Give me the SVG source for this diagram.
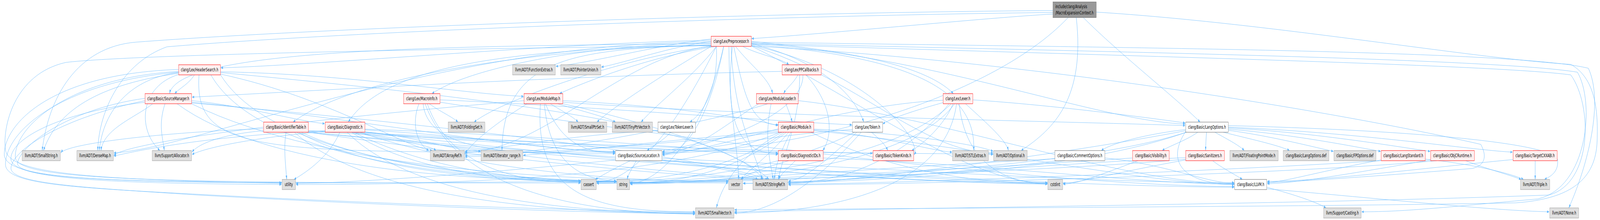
<svg xmlns="http://www.w3.org/2000/svg" width="7283" height="564" viewBox="0 0 7283 564" preserveAspectRatio="none">
<defs>
<marker id="a" viewBox="0 0 10 7" refX="10" refY="3.5" markerWidth="10" markerHeight="7" markerUnits="userSpaceOnUse" orient="auto"><path d="M0,0L10,3.5L0,7z" fill="#63b8ff"/></marker>
<style>
svg{width:100vw;height:100vh}
.e path{fill:none;stroke:#63b8ff;stroke-width:1;marker-end:url(#a)}
.n text{font-family:"DejaVu Sans","Liberation Sans",sans-serif;font-size:13px;fill:#000;text-anchor:middle}
.r rect{fill:#fff0f0;stroke:#ff0000}
.g rect{fill:#e0e0e0;stroke:#999999}
.w rect{fill:#ffffff;stroke:#666666}
.t rect{fill:#999999;stroke:#666666}
.t text{text-anchor:start}
</style>
</defs>
<rect width="7283" height="564" fill="#ffffff"/>
<g id="connectors" class="e">
<path d="M4793,36 C4500,45 3800,85 3421,99"/>
<path d="M4793,27 C3500,32 1500,70 620,108 C350,120 220,250 192,386"/>
<path d="M4793,32 C3500,40 1600,80 760,120 C560,160 450,280 445,386"/>
<path d="M4862,45 C4500,260 3600,392 3015,392"/>
<path d="M4899,45 C4940,250 4800,330 4648,386"/>
<path d="M4931,45 C5100,140 5350,250 5463,313"/>
<path d="M4990,31 C5800,60 6700,150 7150,165 C7260,200 7275,280 7270,360 C7265,460 7150,510 6900,520 C6000,530 4500,532 3343,538"/>
<path d="M3237,103 C2500,112 1500,165 1005,174"/>
<path d="M3237,112 C2000,118 810,125 772,240"/>
<path d="M3237,115 C2400,125 1600,200 1334,313"/>
<path d="M3237,117 C2300,125 1750,170 1585,313"/>
<path d="M3237,110 C2700,114 2150,170 1966,240"/>
<path d="M3261,119 C3000,140 2700,200 2547,240"/>
<path d="M3348,119 C3420,170 3500,200 3517,240"/>
<path d="M3381,119 C3450,140 3560,150 3591,166"/>
<path d="M3340,119 C3390,250 3420,320 3543,320"/>
<path d="M3334,119 C3300,300 3350,394 3543,394"/>
<path d="M3261,119 C3270,230 3200,290 3140,313"/>
<path d="M3294,119 C3250,250 3150,396 3015,396"/>
<path d="M3420,112 C3700,150 3880,230 3932,313"/>
<path d="M3420,106 C3800,128 4200,160 4340,240"/>
<path d="M3420,116 C3950,180 4200,360 4161,397"/>
<path d="M3237,118 C2800,150 2500,380 2116,392"/>
<path d="M3237,119 C2900,140 2300,250 2158,313"/>
<path d="M3237,100 C3000,115 2700,160 2530,170"/>
<path d="M3237,106 C3050,120 2850,160 2737,172"/>
<path d="M3237,119 C3050,180 2800,270 2717,313"/>
<path d="M3261,119 C3150,200 3000,260 2918,313"/>
<path d="M3237,116 C2600,125 2290,150 2285,386"/>
<path d="M3420,117 C3900,200 4200,392 4521,392"/>
<path d="M3420,114 C4000,140 4450,200 4432,386"/>
<path d="M3328,119 C3340,300 3430,380 3470,460"/>
<path d="M3318,119 C3320,300 3360,380 3362,460"/>
<path d="M3237,117 C2000,125 600,140 300,160 C60,190 10,330 25,385 C45,445 400,460 1282,470"/>
<path d="M3261,119 C3100,300 2900,467 2716,467"/>
<path d="M3294,119 C3200,350 3000,470 2868,470"/>
<path d="M3420,118 C3900,250 4400,470 4768,470"/>
<path d="M3420,110 C4300,150 5000,310 5395,318"/>
<path d="M3237,107 C2000,110 900,380 518,392"/>
<path d="M3420,108 C5000,122 6900,128 7230,175 C7300,260 7230,420 7141,533"/>
<path d="M3420,111 C5000,132 6800,150 7180,185 C7260,260 7230,480 7000,510 C6600,530 6400,543 6198,543"/>
<path d="M3420,113 C5000,142 6800,165 7150,192 C7250,270 7250,470 7050,500 C6000,522 4500,530 3343,543"/>
<path d="M3420,118 C4800,160 6200,300 6740,370 C6770,400 6760,425 6700,432 C6300,450 5900,466 5768,468"/>
<path d="M885,192 C860,215 820,225 795,240"/>
<path d="M1004,184 C1600,190 2100,240 2383,247"/>
<path d="M906,192 C880,400 1200,390 2800,390"/>
<path d="M813,186 C600,200 470,280 452,386"/>
<path d="M813,188 C400,220 250,300 198,386"/>
<path d="M1004,190 C1500,250 1850,380 1968,386"/>
<path d="M813,185 C300,210 30,330 25,420 C20,470 300,480 800,495 C1600,520 2600,540 3164,544"/>
<path d="M1004,186 C2200,250 3300,320 3474,460"/>
<path d="M813,191 C640,220 620,330 728,386"/>
<path d="M813,183 C300,200 60,330 70,405 C90,462 700,470 2643,469"/>
<path d="M960,192 C1200,430 2300,466 2806,466"/>
<path d="M813,178 C200,190 10,330 20,400 C40,455 400,466 1282,468"/>
<path d="M1004,192 C1300,460 2600,469 3315,469"/>
<path d="M751,266 C720,320 740,350 748,386"/>
<path d="M872,258 C1100,270 1350,310 1478,317"/>
<path d="M872,262 C1600,300 2400,388 2800,388"/>
<path d="M695,266 C620,300 470,330 460,386"/>
<path d="M660,258 C300,300 60,380 50,430 C45,470 350,480 900,500 C1700,525 2600,545 3164,548"/>
<path d="M872,264 C2000,320 3200,400 3494,460"/>
<path d="M806,266 C1200,430 2100,462 2643,463"/>
<path d="M660,252 C300,280 80,380 80,420 C90,470 900,475 2806,464"/>
<path d="M660,262 C250,290 40,360 50,410 C70,460 500,470 1282,473"/>
<path d="M872,266 C1500,440 2600,464 3315,464"/>
<path d="M1954,266 C2000,285 2060,300 2085,313"/>
<path d="M1907,266 C1870,320 1900,370 1952,386"/>
<path d="M2003,256 C2600,270 3500,310 3878,320"/>
<path d="M1926,266 C1950,400 2400,394 2800,394"/>
<path d="M2003,262 C3000,350 4800,478 5618,478"/>
<path d="M1935,266 C2100,520 2800,546 3164,549"/>
<path d="M1945,266 C2050,440 2400,468 2643,468"/>
<path d="M2505,266 C2560,285 2610,300 2632,313"/>
<path d="M2538,266 C2650,285 2760,300 2802,313"/>
<path d="M2483,266 C2550,360 2650,392 2800,392"/>
<path d="M2478,266 C2500,420 2650,462 2806,464"/>
<path d="M2562,258 C3000,270 3400,300 3541,322"/>
<path d="M2385,258 C1500,300 600,360 518,398"/>
<path d="M2400,266 C2300,300 2150,360 2116,396"/>
<path d="M2460,266 C2430,500 2700,543 3164,543"/>
<path d="M2562,262 C3500,300 4800,310 5395,322"/>
<path d="M2562,266 C3000,320 3400,400 3500,460"/>
<path d="M3577,266 C3590,285 3600,300 3606,313"/>
<path d="M3453,266 C3300,320 3150,394 3015,394"/>
<path d="M3495,266 C3200,320 2400,400 2116,402"/>
<path d="M3510,266 C3480,350 3500,400 3520,460"/>
<path d="M3634,258 C4300,300 5100,470 5618,471"/>
<path d="M3632,192 C3610,215 3580,225 3567,240"/>
<path d="M3668,192 C3780,260 3800,340 3745,386"/>
<path d="M3560,183 C2500,195 1200,240 874,249"/>
<path d="M3655,192 C3660,300 3200,380 3015,390"/>
<path d="M3640,192 C3640,320 3560,400 3543,460"/>
<path d="M4338,266 C4300,320 4200,370 4150,386"/>
<path d="M4300,262 C4150,285 4050,305 4018,318"/>
<path d="M4428,256 C4800,270 5200,300 5395,315"/>
<path d="M4293,257 C3800,270 3300,380 3015,398"/>
<path d="M4320,266 C4100,420 3800,469 3589,469"/>
<path d="M4395,266 C4500,320 4580,360 4590,386"/>
<path d="M4354,266 C4300,500 3700,546 3343,546"/>
<path d="M4330,266 C4000,450 3000,470 2716,470"/>
<path d="M4345,266 C4100,460 3000,472 2868,472"/>
<path d="M4366,266 C4400,450 4650,470 4768,472"/>
<path d="M1302,339 C1290,380 1300,420 1305,460"/>
<path d="M1404,335 C2500,360 3300,396 3541,396"/>
<path d="M1404,337 C2500,370 3700,390 3972,393"/>
<path d="M1400,339 C3000,420 4800,478 5618,480"/>
<path d="M1200,330 C700,340 300,370 277,392"/>
<path d="M1340,339 C1700,520 2600,546 3164,547"/>
<path d="M1404,339 C2400,420 3200,455 3474,460"/>
<path d="M1200,335 C1000,345 900,370 874,390"/>
<path d="M1360,339 C1700,450 2400,465 2643,466"/>
<path d="M1370,339 C1800,450 2500,464 2806,464"/>
<path d="M1404,339 C3000,430 4300,470 4768,470"/>
<path d="M1547,339 C1500,400 1400,440 1338,460"/>
<path d="M1661,331 C2600,350 3300,390 3541,392"/>
<path d="M1661,333 C2200,350 2600,390 2800,390"/>
<path d="M1600,339 C1800,360 1950,370 1985,386"/>
<path d="M1661,338 C1900,350 2050,385 2188,388"/>
<path d="M1480,335 C900,350 600,390 518,400"/>
<path d="M1480,337 C1200,350 950,375 874,396"/>
<path d="M1661,339 C2800,400 4200,390 4521,396"/>
<path d="M1580,339 C1900,520 2700,546 3164,546"/>
<path d="M1620,339 C2500,420 3300,450 3472,460"/>
<path d="M1600,339 C1900,450 2400,466 2643,466"/>
<path d="M1610,339 C2000,450 2500,466 2806,466"/>
<path d="M1640,339 C2200,450 3000,466 3315,466"/>
<path d="M1661,339 C3200,440 4300,470 4768,472"/>
<path d="M3053,339 C3020,360 2970,375 2945,386"/>
<path d="M2995,335 C2600,345 2300,380 2116,388"/>
<path d="M3704,335 C4500,380 5200,470 5618,473"/>
<path d="M3543,333 C3300,345 3100,380 3015,388"/>
<path d="M3560,339 C3000,370 2400,395 2116,398"/>
<path d="M3704,331 C4100,340 4450,370 4521,388"/>
<path d="M3704,333 C4000,345 4250,388 4334,390"/>
<path d="M3560,339 C3450,370 3300,440 3261,533"/>
<path d="M3600,339 C3560,380 3530,420 3525,460"/>
<path d="M3543,337 C3000,360 2600,390 2382,398"/>
<path d="M3570,339 C3300,450 2900,466 2716,466"/>
<path d="M3690,339 C4100,450 4500,470 4768,470"/>
<path d="M3580,339 C3300,460 3000,470 2868,468"/>
<path d="M3550,339 C3000,470 1800,473 1347,473"/>
<path d="M3590,339 C3500,400 3400,440 3372,460"/>
<path d="M3967,339 C4000,355 4030,370 4041,386"/>
<path d="M3880,332 C3500,345 3200,388 3015,392"/>
<path d="M3920,339 C3700,480 3500,546 3343,546"/>
<path d="M3900,339 C3750,420 3650,462 3589,464"/>
<path d="M3890,339 C3500,450 3000,466 2716,466"/>
<path d="M5452,339 C5400,360 5320,375 5290,386"/>
<path d="M5492,339 C5490,355 5488,370 5488,386"/>
<path d="M5530,339 C5580,355 5640,372 5664,386"/>
<path d="M5568,339 C5680,355 5820,372 5870,386"/>
<path d="M5591,334 C5800,350 6000,380 6070,388"/>
<path d="M5591,331 C5900,345 6200,380 6285,388"/>
<path d="M5591,328 C6000,340 6400,380 6510,388"/>
<path d="M5591,326 C6200,340 6700,385 6885,390"/>
<path d="M5397,332 C5200,345 5050,370 5013,386"/>
<path d="M5397,337 C5300,420 5400,472 5618,472"/>
<path d="M5591,322 C6500,335 7080,370 7090,410 C7095,440 7060,452 7030,460"/>
<path d="M5397,335 C4800,400 3800,470 3589,470"/>
<path d="M5400,339 C4800,450 3200,470 2868,470"/>
<path d="M5400,339 C4800,460 3600,470 3382,470"/>
<path d="M5520,412 C5560,430 5630,450 5655,460"/>
<path d="M5397,404 C4800,420 3800,466 3589,466"/>
<path d="M5397,408 C4800,440 3200,468 2716,468"/>
<path d="M5397,410 C5100,440 4900,470 4839,470"/>
<path d="M5155,405 C4500,430 3200,470 2716,470"/>
<path d="M5180,412 C5000,450 4900,472 4839,472"/>
<path d="M6287,410 C6000,440 5850,466 5768,468"/>
<path d="M6287,412 C5500,440 4000,472 3589,472"/>
<path d="M6488,408 C6700,420 6880,445 6935,460"/>
<path d="M6672,412 C6750,430 6880,450 6924,460"/>
<path d="M6512,410 C6200,440 5900,470 5768,471"/>
<path d="M6540,412 C5800,450 4000,474 3589,474"/>
<path d="M6988,412 L6988,460"/>
<path d="M6887,409 C6500,430 6000,465 5768,465"/>
<path d="M5029,405 C5300,420 5500,470 5618,470"/>
<path d="M4802,407 C4000,430 3100,470 2868,470"/>
<path d="M4810,412 C4300,450 3600,470 3382,470"/>
<path d="M3620,412 C3590,430 3555,445 3545,460"/>
<path d="M3747,405 C4500,420 5200,472 5618,472"/>
<path d="M3590,412 C3480,430 3400,445 3375,460"/>
<path d="M2870,412 C2800,430 2740,450 2710,460"/>
<path d="M2896,412 C2880,430 2860,445 2855,460"/>
<path d="M3013,406 C4000,430 5000,470 5618,468"/>
<path d="M3013,410 C3200,420 3400,445 3450,460"/>
<path d="M3013,412 C3800,440 4500,470 4768,468"/>
<path d="M2802,410 C2300,440 1600,470 1347,470"/>
<path d="M5766,480 C5900,500 6000,520 6036,533"/>
<path d="M5766,484 C6300,510 6800,540 7052,543"/>
</g>
<g id="node-mec" class="n t"><rect x="4793" y="5" width="197" height="40"/><text x="4804" y="21">include/clang/Analysis</text><text x="4804" y="37">/MacroExpansionContext.h</text></g>
<g id="node-pp" class="n r"><rect x="3237" y="93" width="183" height="26"/><text x="3328.5" y="110.5">clang/Lex/Preprocessor.h</text></g>
<g id="node-hs" class="n r"><rect x="813" y="166" width="191" height="26"/><text x="908.5" y="183.5">clang/Lex/HeaderSearch.h</text></g>
<g id="node-fe" class="n g"><rect x="2333" y="166" width="195" height="26"/><text x="2430.5" y="183.5">llvm/ADT/FunctionExtras.h</text></g>
<g id="node-pu" class="n g"><rect x="2552" y="166" width="183" height="26"/><text x="2643.5" y="183.5">llvm/ADT/PointerUnion.h</text></g>
<g id="node-ppc" class="n r"><rect x="3560" y="166" width="178" height="26"/><text x="3649" y="183.5">clang/Lex/PPCallbacks.h</text></g>
<g id="node-sm" class="n r"><rect x="660" y="240" width="212" height="26"/><text x="766" y="257.5">clang/Basic/SourceManager.h</text></g>
<g id="node-mi" class="n r"><rect x="1837" y="240" width="166" height="26"/><text x="1920" y="257.5">clang/Lex/MacroInfo.h</text></g>
<g id="node-mm" class="n r"><rect x="2385" y="240" width="177" height="26"/><text x="2473.5" y="257.5">clang/Lex/ModuleMap.h</text></g>
<g id="node-ml" class="n r"><rect x="3443" y="240" width="191" height="26"/><text x="3538.5" y="257.5">clang/Lex/ModuleLoader.h</text></g>
<g id="node-lx" class="n r"><rect x="4293" y="240" width="135" height="26"/><text x="4360.5" y="257.5">clang/Lex/Lexer.h</text></g>
<g id="node-it" class="n r"><rect x="1200" y="313" width="204" height="26"/><text x="1302" y="330.5">clang/Basic/IdentifierTable.h</text></g>
<g id="node-dg" class="n r"><rect x="1480" y="313" width="181" height="26"/><text x="1570.5" y="330.5">clang/Basic/Diagnostic.h</text></g>
<g id="node-fs" class="n g"><rect x="2040" y="313" width="167" height="26"/><text x="2123.5" y="330.5">llvm/ADT/FoldingSet.h</text></g>
<g id="node-sps" class="n g"><rect x="2587" y="313" width="175" height="26"/><text x="2674.5" y="330.5">llvm/ADT/SmallPtrSet.h</text></g>
<g id="node-tpv" class="n g"><rect x="2787" y="313" width="183" height="26"/><text x="2878.5" y="330.5">llvm/ADT/TinyPtrVector.h</text></g>
<g id="node-tl" class="n w"><rect x="2995" y="313" width="171" height="26"/><text x="3080.5" y="330.5">clang/Lex/TokenLexer.h</text></g>
<g id="node-mod" class="n r"><rect x="3543" y="313" width="161" height="26"/><text x="3623.5" y="330.5">clang/Basic/Module.h</text></g>
<g id="node-tok" class="n w"><rect x="3880" y="313" width="138" height="26"/><text x="3949" y="330.5">clang/Lex/Token.h</text></g>
<g id="node-lo" class="n w"><rect x="5397" y="313" width="194" height="26"/><text x="5494" y="330.5">clang/Basic/LangOptions.h</text></g>
<g id="node-ss" class="n g"><rect x="101" y="386" width="174" height="26"/><text x="188" y="403.5">llvm/ADT/SmallString.h</text></g>
<g id="node-dm" class="n g"><rect x="350" y="386" width="166" height="26"/><text x="433" y="403.5">llvm/ADT/DenseMap.h</text></g>
<g id="node-al" class="n g"><rect x="693" y="386" width="179" height="26"/><text x="782.5" y="403.5">llvm/Support/Allocator.h</text></g>
<g id="node-ar" class="n g"><rect x="1959" y="386" width="155" height="26"/><text x="2036.5" y="403.5">llvm/ADT/ArrayRef.h</text></g>
<g id="node-ir" class="n g"><rect x="2190" y="386" width="190" height="26"/><text x="2285" y="403.5">llvm/ADT/iterator_range.h</text></g>
<g id="node-sl" class="n w"><rect x="2802" y="386" width="211" height="26"/><text x="2907.5" y="403.5">clang/Basic/SourceLocation.h</text></g>
<g id="node-did" class="n r"><rect x="3543" y="386" width="204" height="26"/><text x="3645" y="403.5">clang/Basic/DiagnosticIDs.h</text></g>
<g id="node-tk" class="n r"><rect x="3974" y="386" width="185" height="26"/><text x="4066.5" y="403.5">clang/Basic/TokenKinds.h</text></g>
<g id="node-stl" class="n g"><rect x="4336" y="386" width="163" height="26"/><text x="4417.5" y="403.5">llvm/ADT/STLExtras.h</text></g>
<g id="node-opt" class="n g"><rect x="4523" y="386" width="153" height="26"/><text x="4599.5" y="403.5">llvm/ADT/Optional.h</text></g>
<g id="node-co" class="n w"><rect x="4802" y="386" width="227" height="26"/><text x="4915.5" y="403.5">clang/Basic/CommentOptions.h</text></g>
<g id="node-vis" class="n r"><rect x="5155" y="386" width="167" height="26"/><text x="5238.5" y="403.5">clang/Basic/Visibility.h</text></g>
<g id="node-san" class="n r"><rect x="5397" y="386" width="176" height="26"/><text x="5485" y="403.5">clang/Basic/Sanitizers.h</text></g>
<g id="node-fpm" class="n g"><rect x="5598" y="386" width="220" height="26"/><text x="5708" y="403.5">llvm/ADT/FloatingPointMode.h</text></g>
<g id="node-lod" class="n g"><rect x="5841" y="386" width="208" height="26"/><text x="5945" y="403.5">clang/Basic/LangOptions.def</text></g>
<g id="node-fpd" class="n g"><rect x="6072" y="386" width="191" height="26"/><text x="6167.5" y="403.5">clang/Basic/FPOptions.def</text></g>
<g id="node-ls" class="n r"><rect x="6287" y="386" width="201" height="26"/><text x="6387.5" y="403.5">clang/Basic/LangStandard.h</text></g>
<g id="node-objc" class="n r"><rect x="6512" y="386" width="199" height="26"/><text x="6611.5" y="403.5">clang/Basic/ObjCRuntime.h</text></g>
<g id="node-tcx" class="n r"><rect x="6887" y="386" width="201" height="26"/><text x="6987.5" y="403.5">clang/Basic/TargetCXXABI.h</text></g>
<g id="node-ut" class="n g"><rect x="1284" y="460" width="61" height="26"/><text x="1314.5" y="477.5">utility</text></g>
<g id="node-ca" class="n g"><rect x="2645" y="460" width="69" height="26"/><text x="2679.5" y="477.5">cassert</text></g>
<g id="node-str" class="n g"><rect x="2808" y="460" width="58" height="26"/><text x="2837" y="477.5">string</text></g>
<g id="node-vec" class="n g"><rect x="3317" y="460" width="63" height="26"/><text x="3348.5" y="477.5">vector</text></g>
<g id="node-sr" class="n g"><rect x="3427" y="460" width="158" height="26"/><text x="3506" y="477.5">llvm/ADT/StringRef.h</text></g>
<g id="node-ci" class="n g"><rect x="4770" y="460" width="67" height="26"/><text x="4803.5" y="477.5">cstdint</text></g>
<g id="node-ll" class="n w"><rect x="5620" y="460" width="146" height="26"/><text x="5693" y="477.5">clang/Basic/LLVM.h</text></g>
<g id="node-tr" class="n g"><rect x="6921" y="460" width="133" height="26"/><text x="6987.5" y="477.5">llvm/ADT/Triple.h</text></g>
<g id="node-sv" class="n g"><rect x="3166" y="533" width="175" height="26"/><text x="3253.5" y="550.5">llvm/ADT/SmallVector.h</text></g>
<g id="node-cast" class="n g"><rect x="6025" y="533" width="171" height="26"/><text x="6110.5" y="550.5">llvm/Support/Casting.h</text></g>
<g id="node-none" class="n g"><rect x="7054" y="533" width="132" height="26"/><text x="7120" y="550.5">llvm/ADT/None.h</text></g>
</svg>
